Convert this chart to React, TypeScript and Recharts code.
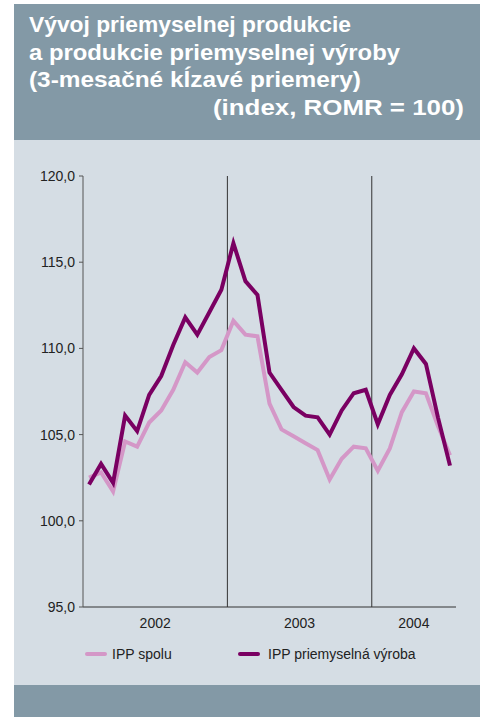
import React from 'react';
import { LineChart, Line, XAxis, YAxis, ReferenceLine } from 'recharts';

const months = [
  '2002-01','2002-02','2002-03','2002-04','2002-05','2002-06','2002-07','2002-08','2002-09','2002-10','2002-11','2002-12',
  '2003-01','2003-02','2003-03','2003-04','2003-05','2003-06','2003-07','2003-08','2003-09','2003-10','2003-11','2003-12',
  '2004-01','2004-02','2004-03','2004-04','2004-05','2004-06','2004-07',
];
const ippSpolu = [
  102.5, 102.8, 101.7, 104.6, 104.3, 105.7, 106.4, 107.6, 109.2, 108.6, 109.5, 109.9,
  111.6, 110.8, 110.7, 106.8, 105.3, 104.9, 104.5, 104.1, 102.4, 103.6, 104.3, 104.2,
  102.9, 104.2, 106.3, 107.5, 107.4, 105.5, 103.8,
];
const ippVyroba = [
  102.1, 103.3, 102.2, 106.1, 105.2, 107.3, 108.4, 110.2, 111.8, 110.8, 112.1, 113.4,
  116.1, 113.9, 113.1, 108.6, 107.6, 106.6, 106.1, 106.0, 105.0, 106.4, 107.4, 107.6,
  105.6, 107.3, 108.5, 110.0, 109.1, 106.0, 103.2,
];
const years = ['2002', '2003', '2004'];
const yTicks = [95, 100, 105, 110, 115, 120];
const seriesNames = ['IPP spolu', 'IPP priemyselná výroba'];
const seriesColors = ['#d497c7', '#7a0062'];
const titleLines = [
  'Vývoj priemyselnej produkcie',
  'a produkcie priemyselnej výroby',
  '(3-mesačné kĺzavé priemery)',
  '(index, ROMR = 100)',
];

const data = months.map((m, i) => ({ month: m, x: i + 0.5, spolu: ippSpolu[i], vyroba: ippVyroba[i] }));

const yearStarts: number[] = [];
const yearCenters: number[] = [];
years.forEach((y) => {
  const idx = months.findIndex((m) => m.startsWith(y));
  const count = months.filter((m) => m.startsWith(y)).length;
  yearStarts.push(idx);
  yearCenters.push(idx + count / 2);
});
const boundaries = yearStarts.slice(1);

const fmt = (v: number) => v.toFixed(1).replace('.', ',');

const titleSpecs = [
  { x: 29, y: 32, w: 322 },
  { x: 29, y: 60, w: 371 },
  { x: 29, y: 87, w: 332 },
  { x: 213, y: 115, w: 251 },
];

export default function App() {
  return (
    <div style={{ position: 'absolute', left: 0, top: 0, width: 480, height: 717, background: '#ffffff', fontFamily: '"Liberation Sans", Arial, sans-serif', overflow: 'hidden' }}>
      <div style={{ position: 'absolute', left: 14, top: 4, width: 466, height: 136, background: '#8399a6' }} />
      <div style={{ position: 'absolute', left: 14, top: 140, width: 466, height: 545, background: '#d5dde4' }} />
      <div style={{ position: 'absolute', left: 14, top: 685, width: 466, height: 32, background: '#8399a6' }} />
      <svg width={480} height={140} style={{ position: 'absolute', left: 0, top: 0 }}>
        {titleLines.map((t, i) => (
          <text
            key={i}
            x={titleSpecs[i].x}
            y={titleSpecs[i].y}
            fill="#ffffff"
            fontSize={22}
            fontWeight="bold"
            fontFamily='"Liberation Sans", Arial, sans-serif'
            textLength={titleSpecs[i].w}
            lengthAdjust="spacingAndGlyphs"
          >
            {t}
          </text>
        ))}
      </svg>
      <div style={{ position: 'absolute', left: 0, top: 140 }}>
        <LineChart width={480} height={545} data={data} margin={{ top: 36, right: 24, left: 0, bottom: 48 }}>
          <XAxis
            dataKey="x"
            type="number"
            domain={[0, months.length]}
            ticks={yearCenters}
            tickFormatter={(v: number) => years[yearCenters.indexOf(v)] ?? ''}
            tickLine={false}
            tickSize={0}
            tickMargin={11}
            height={30}
            axisLine={{ stroke: '#333333', strokeWidth: 1 }}
            tick={{ fill: '#222222', fontSize: 14 }}
            interval={0}
          />
          <YAxis
            domain={[95, 120]}
            ticks={yTicks}
            tickFormatter={fmt}
            width={83}
            tickSize={4}
            tickMargin={4}
            axisLine={{ stroke: '#555555', strokeWidth: 1 }}
            tickLine={{ stroke: '#555555' }}
            tick={{ fill: '#222222', fontSize: 14 }}
            interval={0}
          />
          {boundaries.map((b) => (
            <ReferenceLine key={b} x={b} stroke="#333333" strokeWidth={1} ifOverflow="extendDomain" />
          ))}
          <Line type="linear" dataKey="spolu" name={seriesNames[0]} stroke={seriesColors[0]} strokeWidth={4} dot={false} isAnimationActive={false} />
          <Line type="linear" dataKey="vyroba" name={seriesNames[1]} stroke={seriesColors[1]} strokeWidth={4} dot={false} isAnimationActive={false} />
        </LineChart>
      </div>
      {seriesNames.map((n, i) => (
        <div key={n} style={{ position: 'absolute', left: i === 0 ? 85 : 238, top: 645, height: 18, display: 'flex', alignItems: 'center', fontSize: 14, color: '#222222' }}>
          <span style={{ display: 'inline-block', width: 22, height: 4, borderRadius: 2, background: seriesColors[i], marginRight: i === 0 ? 5 : 8 }} />
          <span>{n}</span>
        </div>
      ))}
    </div>
  );
}
